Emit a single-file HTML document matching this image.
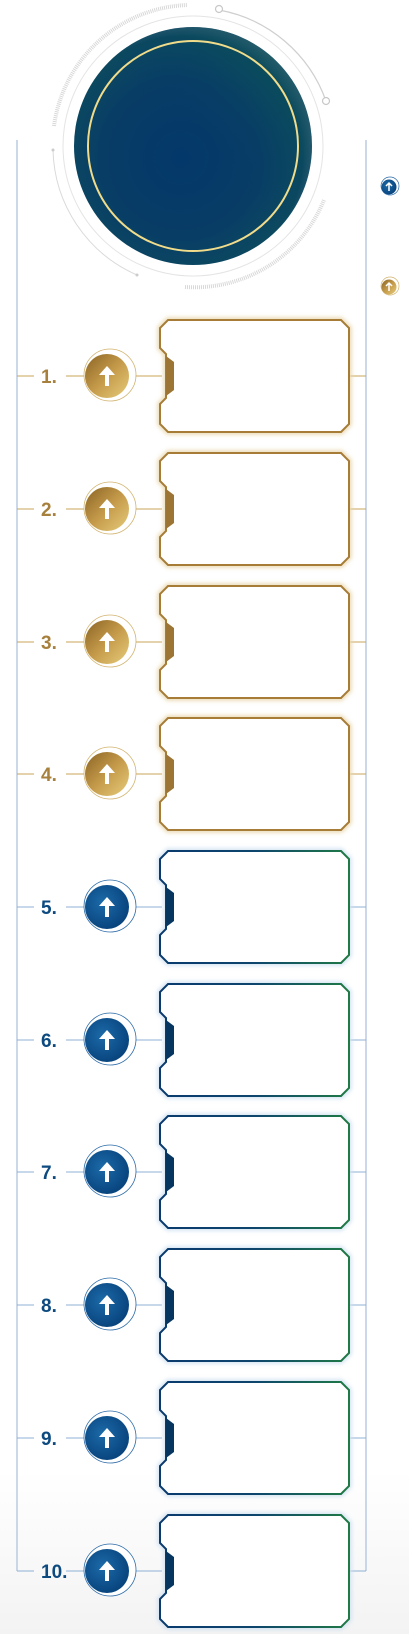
<!DOCTYPE html>
<html><head><meta charset="utf-8"><style>
html,body{margin:0;padding:0;background:#fff;}
svg{display:block;}
text{font-family:"Liberation Sans",sans-serif;font-weight:bold;font-size:19px;}
</style></head><body>
<svg width="409" height="1634" viewBox="0 0 409 1634" xmlns="http://www.w3.org/2000/svg">
<defs>
<linearGradient id="bg" x1="0" y1="0" x2="0" y2="1"><stop offset="0.9" stop-color="#fff"/><stop offset="1" stop-color="#f3f3f3"/></linearGradient>
<radialGradient id="big" cx="0.45" cy="0.55" r="0.6"><stop offset="0" stop-color="#03386a"/><stop offset="0.55" stop-color="#083d66"/><stop offset="0.85" stop-color="#0c4a5f"/><stop offset="1" stop-color="#5a7890"/></radialGradient>
<linearGradient id="bigov" x1="0" y1="1" x2="1" y2="0"><stop offset="0.5" stop-color="#03386a" stop-opacity="0"/><stop offset="1" stop-color="#0f5a50" stop-opacity="0.8"/></linearGradient>
<linearGradient id="gold" x1="0" y1="0" x2="1" y2="1"><stop offset="0" stop-color="#8a6323"/><stop offset="0.5" stop-color="#c49a4a"/><stop offset="1" stop-color="#e6cc7a"/></linearGradient>
<radialGradient id="blue" cx="0.4" cy="0.4" r="0.7"><stop offset="0" stop-color="#1b6aa8"/><stop offset="1" stop-color="#063f78"/></radialGradient>
<linearGradient id="bstroke" x1="0" y1="0" x2="1" y2="0"><stop offset="0" stop-color="#0a3a6e"/><stop offset="0.5" stop-color="#0d456d"/><stop offset="1" stop-color="#1f7a45"/></linearGradient>
<filter id="glow" x="-10%" y="-10%" width="120%" height="120%"><feGaussianBlur stdDeviation="2"/></filter>
<g id="gr">
 <path d="M17,0H34M66,0H86M132,0H162M349,0H366" stroke="#c9a458" stroke-width="1"/>
 <circle cx="110" cy="-1" r="26" fill="#fff" stroke="#d2b36e" stroke-width="0.8"/>
 <circle cx="107" cy="0" r="22" fill="url(#gold)"/>
 <rect x="105" y="-3" width="4" height="13" fill="#fff"/><polygon points="99,-1 107,-10 115,-1" fill="#fff"/>
 <path d="M168,-56H341L349,-48V48L341,56H168L160,48V28L166,22V-22L160,-28V-48Z" fill="none" stroke="#e9d7ae" stroke-width="5" filter="url(#glow)"/>
 <path d="M168,-56H341L349,-48V48L341,56H168L160,48V28L166,22V-22L160,-28V-48Z" fill="#fff" stroke="#a67c37" stroke-width="2"/>
 <polygon points="166,-20 174,-14 174,14 166,20" fill="#9c7433"/>
</g>
<g id="br">
 <path d="M17,0H34M66,0H86M132,0H162M349,0H366" stroke="#8eb0d6" stroke-width="1"/>
 <circle cx="110" cy="-1" r="26" fill="#fff" stroke="#2a6aa8" stroke-width="0.8"/>
 <circle cx="107" cy="0" r="22" fill="url(#blue)"/>
 <rect x="105" y="-3" width="4" height="13" fill="#fff"/><polygon points="99,-1 107,-10 115,-1" fill="#fff"/>
 <path d="M168,-56H341L349,-48V48L341,56H168L160,48V28L166,22V-22L160,-28V-48Z" fill="none" stroke="#cfe0f0" stroke-width="5" filter="url(#glow)"/>
 <path d="M168,-56H341L349,-48V48L341,56H168L160,48V28L166,22V-22L160,-28V-48Z" fill="#fff" stroke="url(#bstroke)" stroke-width="2"/>
 <polygon points="166,-20 174,-14 174,14 166,20" fill="#06355f"/>
</g>
</defs>
<rect width="409" height="1634" fill="url(#bg)"/>
<path d="M17,140V1571M366,140V1571" stroke="#a9bfdc" stroke-width="1.2"/>
<circle cx="193" cy="146" r="130" fill="none" stroke="#e4e4e4" stroke-width="1"/>
<path d="M54,126 A140,140 0 0 1 187,5" fill="none" stroke="#d8d8d8" stroke-width="4" stroke-dasharray="1 1"/>
<path d="M185,287 A140,140 0 0 0 324,200" fill="none" stroke="#d8d8d8" stroke-width="4" stroke-dasharray="1 1"/>
<path d="M219,10 A140,140 0 0 1 326,101" fill="none" stroke="#cfcfcf" stroke-width="1.2"/>
<circle cx="219" cy="9" r="3.5" fill="#fff" stroke="#c8c8c8" stroke-width="1.2"/>
<circle cx="326" cy="101" r="3.5" fill="#fff" stroke="#c8c8c8" stroke-width="1.2"/>
<path d="M53,150 A140,140 0 0 0 137,275" fill="none" stroke="#dadada" stroke-width="1"/>
<circle cx="53" cy="150" r="1.5" fill="#ccc"/><circle cx="137" cy="275" r="1.5" fill="#ccc"/>
<circle cx="193" cy="146" r="119" fill="url(#big)"/>
<circle cx="193" cy="146" r="119" fill="url(#bigov)"/>
<circle cx="193" cy="146" r="105" fill="none" stroke="#f0dc8a" stroke-width="2"/>
<circle cx="390" cy="186" r="9" fill="#fff" stroke="#2a6aa8" stroke-width="0.7"/>
<circle cx="389" cy="187" r="7.5" fill="url(#blue)"/>
<path d="M389,183V191M386,186L389,183L392,186" stroke="#fff" stroke-width="1.5" fill="none"/>
<circle cx="390" cy="286" r="9" fill="#fff" stroke="#d2b36e" stroke-width="0.7"/>
<circle cx="389" cy="287" r="7.5" fill="url(#gold)"/>
<path d="M389,283V291M386,286L389,283L392,286" stroke="#fff" stroke-width="1.5" fill="none"/>
<use href="#gr" y="376"/><text x="41" y="383" fill="#a6803c">1.</text>
<use href="#gr" y="509"/><text x="41" y="516" fill="#a6803c">2.</text>
<use href="#gr" y="642"/><text x="41" y="649" fill="#a6803c">3.</text>
<use href="#gr" y="774"/><text x="41" y="781" fill="#a6803c">4.</text>
<use href="#br" y="907"/><text x="41" y="914" fill="#0d4a80">5.</text>
<use href="#br" y="1040"/><text x="41" y="1047" fill="#0d4a80">6.</text>
<use href="#br" y="1172"/><text x="41" y="1179" fill="#0d4a80">7.</text>
<use href="#br" y="1305"/><text x="41" y="1312" fill="#0d4a80">8.</text>
<use href="#br" y="1438"/><text x="41" y="1445" fill="#0d4a80">9.</text>
<use href="#br" y="1571"/><text x="41" y="1578" fill="#0d4a80">10.</text>
</svg>
</body></html>
